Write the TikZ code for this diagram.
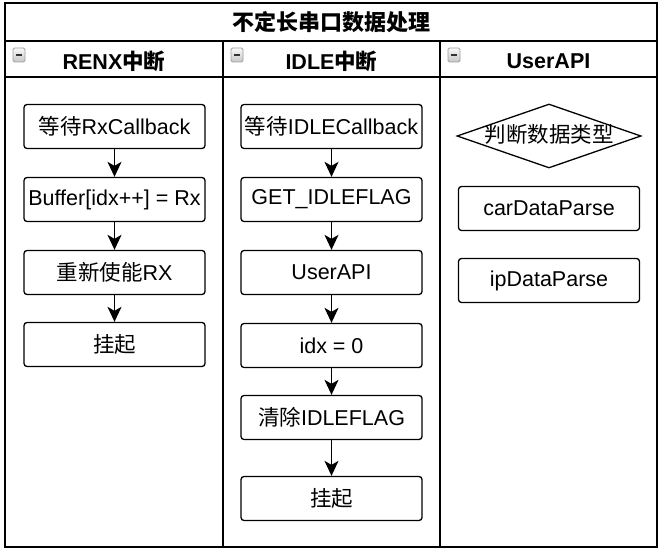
\documentclass[tikz,border=0pt]{standalone}
\usepackage{fontspec}
\setmainfont{Liberation Sans}
\newfontfamily\cjk{Noto Sans CJK SC}
\usetikzlibrary{shapes.geometric,arrows.meta}
\tikzset{
  lanebox/.style={draw=black,line width=1.6pt},
  stepbox/.style={draw=black,line width=1.3pt,rounded corners=3pt,fill=white,minimum width=181pt,minimum height=44pt,inner sep=0pt,font=\fontsize{21.5}{25}\selectfont},
  decide/.style={draw=black,line width=1.3pt,diamond,aspect=2.875,fill=white,minimum width=184pt,minimum height=64pt,inner sep=0pt},
  flow/.style={line width=1.4pt,-{Stealth[length=15pt,width=14pt,inset=4pt]}},
  headtxt/.style={font=\bfseries\fontsize{21.5}{25}\selectfont,inner sep=0pt},
  minusicon/.style={draw=gray!75,line width=0.8pt,rounded corners=1.5pt,top color=gray!5,bottom color=gray!45}
}
\begin{document}
\begin{tikzpicture}[x=1pt,y=-1pt]
\useasboundingbox (0,0) rectangle (663,553);
% frame
\draw[lanebox,fill=white] (5,3) rectangle (657,547);
\draw[lanebox] (5,41) -- (657,41);
\draw[lanebox] (5,77) -- (657,77);
\draw[lanebox] (223,41) -- (223,547);
\draw[lanebox] (440,41) -- (440,547);
% title and headers
\node[headtxt,font=\bfseries\fontsize{22}{26}\selectfont] (title) at (331,22) {{\cjk\bfseries 不定长串口数据处理}};
\node[headtxt] (h1) at (114,61) {RENX{\cjk\bfseries 中断}};
\node[headtxt] (h2) at (331.5,61) {IDLE{\cjk\bfseries 中断}};
\node[headtxt] (h3) at (548.5,61) {UserAPI};
% minus icons
\foreach \x/\n in {13/m1,231/m2,448/m3}{
  \draw[minusicon] (\x,48) rectangle ++(12,14);
  \draw[line width=1.8pt,gray!40!black] (\x+3,55) -- ++(6,0);
}
% left lane
\node[stepbox] (a1) at (114.5,126.5) {{\cjk 等待}RxCallback};
\node[stepbox] (a2) at (114.5,199.5) {Buffer[idx++] = Rx};
\node[stepbox] (a3) at (114.5,272.5) {{\cjk 重新使能}RX};
\node[stepbox] (a4) at (114.5,344.5) {{\cjk 挂起}};
\draw[flow] (a1) -- (a2);
\draw[flow] (a2) -- (a3);
\draw[flow] (a3) -- (a4);
% middle lane
\node[stepbox] (b1) at (331.5,126.5) {{\cjk 等待}IDLECallback};
\node[stepbox] (b2) at (331.5,199.5) {GET\_IDLEFLAG};
\node[stepbox] (b3) at (331.5,272.5) {UserAPI};
\node[stepbox] (b4) at (331.5,345.5) {idx = 0};
\node[stepbox] (b5) at (331.5,417.5) {{\cjk 清除}IDLEFLAG};
\node[stepbox] (b6) at (331.5,498.5) {{\cjk 挂起}};
\draw[flow] (b1) -- (b2);
\draw[flow] (b2) -- (b3);
\draw[flow] (b3) -- (b4);
\draw[flow] (b4) -- (b5);
\draw[flow] (b5) -- (b6);
% right lane
\node[decide] (c1) at (549,136) {};
\node[inner sep=0pt,font=\fontsize{21.5}{25}\selectfont] (c1t) at (549,134) {{\cjk 判断数据类型}};
\node[stepbox] (c2) at (549,208.5) {carDataParse};
\node[stepbox] (c3) at (549,280.5) {ipDataParse};
\end{tikzpicture}
\end{document}
